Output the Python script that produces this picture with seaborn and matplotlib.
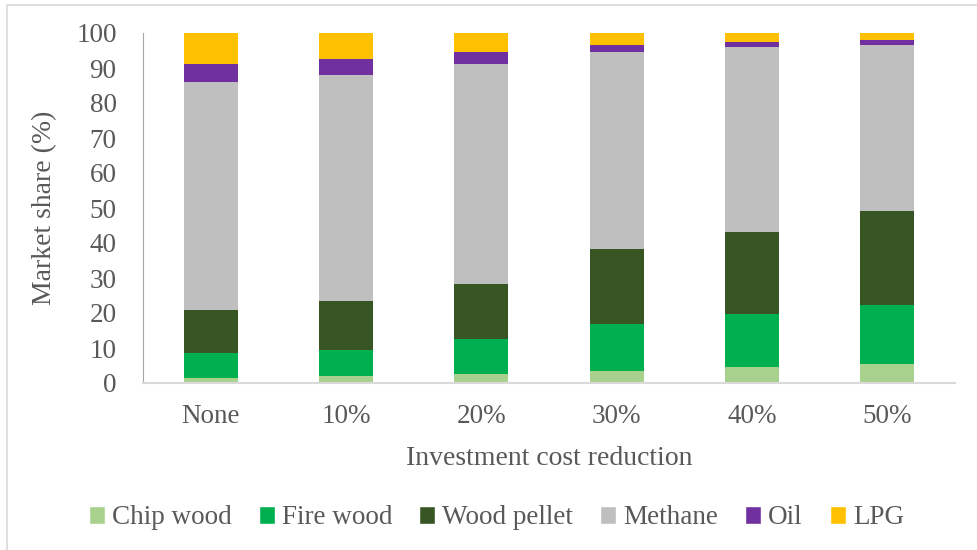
import pandas as pd
import matplotlib.pyplot as plt
import seaborn as sns
from matplotlib.patches import Patch, Rectangle

# data (market share, %)
scenarios = ['None', '10%', '20%', '30%', '40%', '50%']
fuels = ['Chip wood', 'Fire wood', 'Wood pellet', 'Methane', 'Oil', 'LPG']
chip_wood = [1.4, 1.9, 2.7, 3.3, 4.6, 5.3]
fire_wood = [7.3, 7.5, 10.0, 13.5, 15.0, 16.9]
wood_pellet = [12.2, 14.1, 15.6, 21.6, 23.5, 27.0]
methane = [65.0, 64.4, 62.9, 56.2, 52.9, 47.5]
oil = [5.3, 4.6, 3.4, 2.0, 1.3, 1.2]
lpg = [8.8, 7.5, 5.4, 3.4, 2.7, 2.1]
colors = ['#A9D18E', '#00B050', '#375623', '#BFBFBF', '#7030A0', '#FFC000']


def main():
    sns.set_style('white')
    plt.rcParams['font.family'] = ['Liberation Serif', 'DejaVu Serif']
    text_col = '#595959'

    df = pd.DataFrame({'scenario': scenarios, 'Chip wood': chip_wood,
                       'Fire wood': fire_wood, 'Wood pellet': wood_pellet,
                       'Methane': methane, 'Oil': oil, 'LPG': lpg})
    cum = df[fuels].cumsum(axis=1)
    cum['scenario'] = df['scenario']

    fig = plt.figure(figsize=(9.77, 5.5), dpi=100)
    ax = fig.add_axes([143 / 977, 1 - 383 / 550, (955 - 143) / 977, 350 / 550])

    # draw cumulative totals from the top layer down so lower layers sit in front
    for fuel, col in reversed(list(zip(fuels, colors))):
        sns.barplot(data=cum, x='scenario', y=fuel, color=col, width=0.4,
                    saturation=1, ax=ax, linewidth=0)

    ax.set_ylim(0, 100)
    ax.set_xlim(-0.5, 5.5)
    ax.set_yticks(range(0, 101, 10))
    ax.tick_params(axis='both', labelsize=19.5, colors=text_col, length=0)
    ax.tick_params(axis='y', pad=19)
    ax.tick_params(axis='x', pad=15)
    ax.set_xlabel('Investment cost reduction', fontsize=20, color=text_col, labelpad=12)
    ax.set_ylabel('Market share (%)', fontsize=20, color=text_col, labelpad=14)
    for side in ['top', 'right']:
        ax.spines[side].set_visible(False)
    ax.spines['left'].set_color('#A6A6A6')
    ax.spines['bottom'].set_color('#D9D9D9')
    ax.spines['bottom'].set_linewidth(1.5)

    handles = [Patch(facecolor=c, label=f) for f, c in zip(fuels, colors)]
    fig.legend(handles=handles, loc='center', bbox_to_anchor=(0.508, 1 - 518 / 550),
               ncol=6, frameon=False, fontsize=19.5, labelcolor=text_col,
               handlelength=0.6, handleheight=0.6, handletextpad=0.25, columnspacing=1.0)

    # chart area border (only top and left visible in the crop)
    fig.patches.append(Rectangle((7 / 977, -0.1), 1.2, 1 - 5 / 550 + 0.1,
                                 transform=fig.transFigure, fill=False,
                                 edgecolor='#D9D9D9', linewidth=1.2))

    fig.savefig('out.png', dpi=100)


if __name__ == "__main__":
    main()
